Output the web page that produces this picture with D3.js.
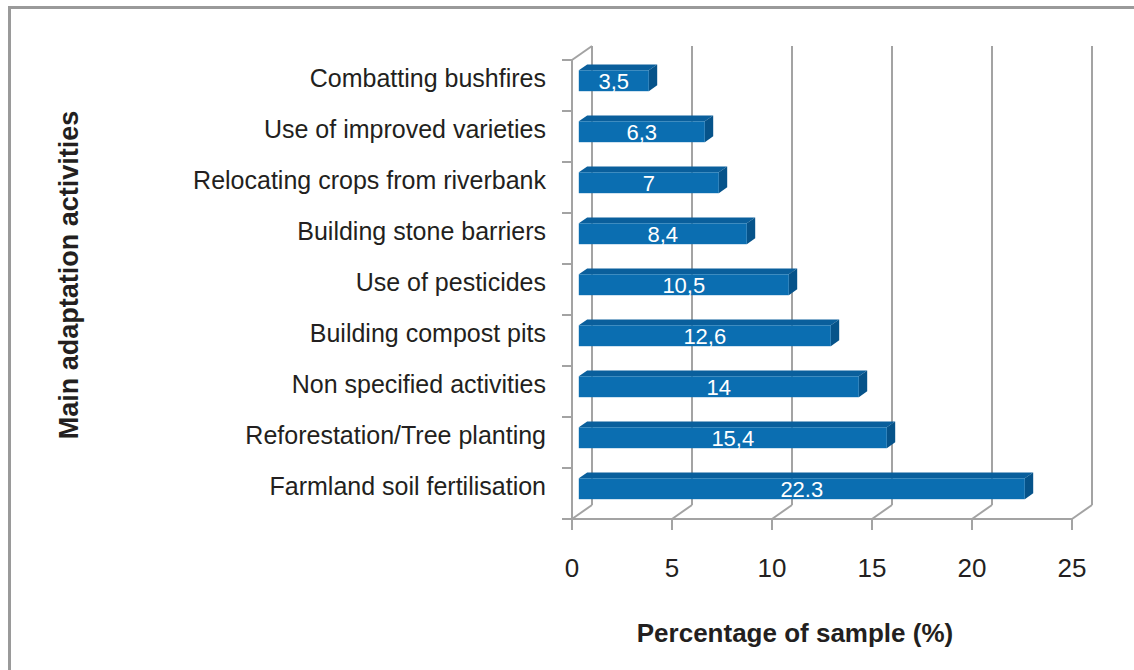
<!DOCTYPE html>
<html>
<head>
<meta charset="utf-8">
<script src="https://cdn.jsdelivr.net/npm/d3@7"></script>
<style>
  html, body { margin: 0; padding: 0; background: #fff; }
  svg { display: block; font-family: "Liberation Sans", Arial, Helvetica, sans-serif; }
</style>
</head>
<body>
<svg id="chart" width="1134" height="670"></svg>
<script>
const categories = [
  "Combatting bushfires",
  "Use of improved varieties",
  "Relocating crops from riverbank",
  "Building stone barriers",
  "Use of pesticides",
  "Building compost pits",
  "Non specified activities",
  "Reforestation/Tree planting",
  "Farmland soil fertilisation"
];
const values = [3.5, 6.3, 7, 8.4, 10.5, 12.6, 14, 15.4, 22.3];
const valueLabels = ["3,5", "6,3", "7", "8,4", "10,5", "12,6", "14", "15,4", "22.3"];
const xTicks = [0, 5, 10, 15, 20, 25];
const xTitle = "Percentage of sample (%)";
const yTitle = "Main adaptation activities";

const svg = d3.select("#chart");
const W = 1134, H = 670;

// border
svg.append("path")
  .attr("d", `M9.5,${H} L9.5,7.5 L${W},7.5`)
  .attr("fill", "none").attr("stroke", "#9a9a9a").attr("stroke-width", 3);

const x = d3.scaleLinear().domain([0, 25]).range([572, 1072]);
const y = d3.scaleBand().domain(categories).range([60, 519]).paddingInner(0).paddingOuter(0);
const DX = 20, DY = -14; // depth offset
const gridColor = "#a3a3a3";

const g = svg.append("g");

// back wall vertical gridlines (including back-left edge)
g.selectAll("line.grid").data(xTicks).enter().append("line")
  .attr("x1", d => x(d) + DX).attr("x2", d => x(d) + DX)
  .attr("y1", y.range()[0] + DY).attr("y2", y.range()[1] + DY)
  .attr("stroke", gridColor).attr("stroke-width", 2);

// floor diagonals
g.selectAll("line.diag").data(xTicks).enter().append("line")
  .attr("x1", d => x(d)).attr("x2", d => x(d) + DX)
  .attr("y1", y.range()[1]).attr("y2", y.range()[1] + DY)
  .attr("stroke", gridColor).attr("stroke-width", 2);

// floor front line
g.append("line")
  .attr("x1", x(0) - 10).attr("x2", x(25))
  .attr("y1", y.range()[1]).attr("y2", y.range()[1])
  .attr("stroke", gridColor).attr("stroke-width", 2);

// bottom ticks
g.selectAll("line.xtick").data(xTicks).enter().append("line")
  .attr("x1", d => x(d)).attr("x2", d => x(d))
  .attr("y1", y.range()[1]).attr("y2", y.range()[1] + 11)
  .attr("stroke", gridColor).attr("stroke-width", 2);

// left wall front edge
g.append("line")
  .attr("x1", x(0)).attr("x2", x(0))
  .attr("y1", y.range()[0]).attr("y2", y.range()[1])
  .attr("stroke", gridColor).attr("stroke-width", 2);
// left wall top diagonal
g.append("line")
  .attr("x1", x(0)).attr("x2", x(0) + DX)
  .attr("y1", y.range()[0]).attr("y2", y.range()[0] + DY)
  .attr("stroke", gridColor).attr("stroke-width", 2);

// left category ticks at band boundaries
const boundaries = categories.map(c => y(c)).concat([y.range()[1]]);
g.selectAll("line.ytick").data(boundaries).enter().append("line")
  .attr("x1", x(0) - 10).attr("x2", x(0))
  .attr("y1", d => d).attr("y2", d => d)
  .attr("stroke", gridColor).attr("stroke-width", 2);

// bars (3D)
const f1 = 0.34, f2 = 0.76; // depth fractions front/back
const barFrac = 0.41;
const bars = categories.map((c, i) => {
  const bw = y.bandwidth() * barFrac;
  const yc = y(c) + y.bandwidth() / 2 + DY * f1;
  const x0 = x(0) + DX * f1;
  const x1 = x(values[i]) + DX * f1;
  return { c, v: values[i], label: valueLabels[i], x0, x1, top: yc - bw / 2, bot: yc + bw / 2,
           ox: DX * (f2 - f1), oy: DY * (f2 - f1) };
});

const bg = svg.append("g");
// top faces
bg.selectAll("path.top").data(bars).enter().append("path")
  .attr("d", b => `M${b.x0},${b.top} L${b.x0 + b.ox},${b.top + b.oy} L${b.x1 + b.ox},${b.top + b.oy} L${b.x1},${b.top} Z`)
  .attr("fill", "#0a5f9c");
// side faces
bg.selectAll("path.side").data(bars).enter().append("path")
  .attr("d", b => `M${b.x1},${b.top} L${b.x1 + b.ox},${b.top + b.oy} L${b.x1 + b.ox},${b.bot + b.oy} L${b.x1},${b.bot} Z`)
  .attr("fill", "#06538a");
// front faces
bg.selectAll("rect.front").data(bars).enter().append("rect")
  .attr("x", b => b.x0).attr("y", b => b.top)
  .attr("width", b => b.x1 - b.x0).attr("height", b => b.bot - b.top)
  .attr("fill", "#0b6eb1");
// value labels
bg.selectAll("text.val").data(bars).enter().append("text")
  .attr("x", b => (b.x0 + b.x1) / 2)
  .attr("y", b => (b.top + b.bot) / 2 + 8)
  .attr("text-anchor", "middle")
  .attr("fill", "#ffffff").attr("font-size", "22px")
  .text(b => b.label);

// category labels
svg.append("g").selectAll("text").data(categories).enter().append("text")
  .attr("x", 546)
  .attr("y", d => y(d) + y.bandwidth() / 2 - 7 + 8.5)
  .attr("text-anchor", "end")
  .attr("fill", "#231f20").attr("font-size", "25px")
  .text(d => d);

// x tick labels
svg.append("g").selectAll("text").data(xTicks).enter().append("text")
  .attr("x", d => x(d))
  .attr("y", 577)
  .attr("text-anchor", "middle")
  .attr("fill", "#231f20").attr("font-size", "26px")
  .text(d => d);

// axis titles
svg.append("text")
  .attr("x", 795).attr("y", 642)
  .attr("text-anchor", "middle")
  .attr("font-weight", "bold").attr("font-size", "26px").attr("fill", "#231f20")
  .text(xTitle);

svg.append("text")
  .attr("transform", "translate(78,275) rotate(-90)")
  .attr("text-anchor", "middle")
  .attr("font-weight", "bold").attr("font-size", "27px").attr("fill", "#231f20")
  .text(yTitle);
</script>
</body>
</html>
